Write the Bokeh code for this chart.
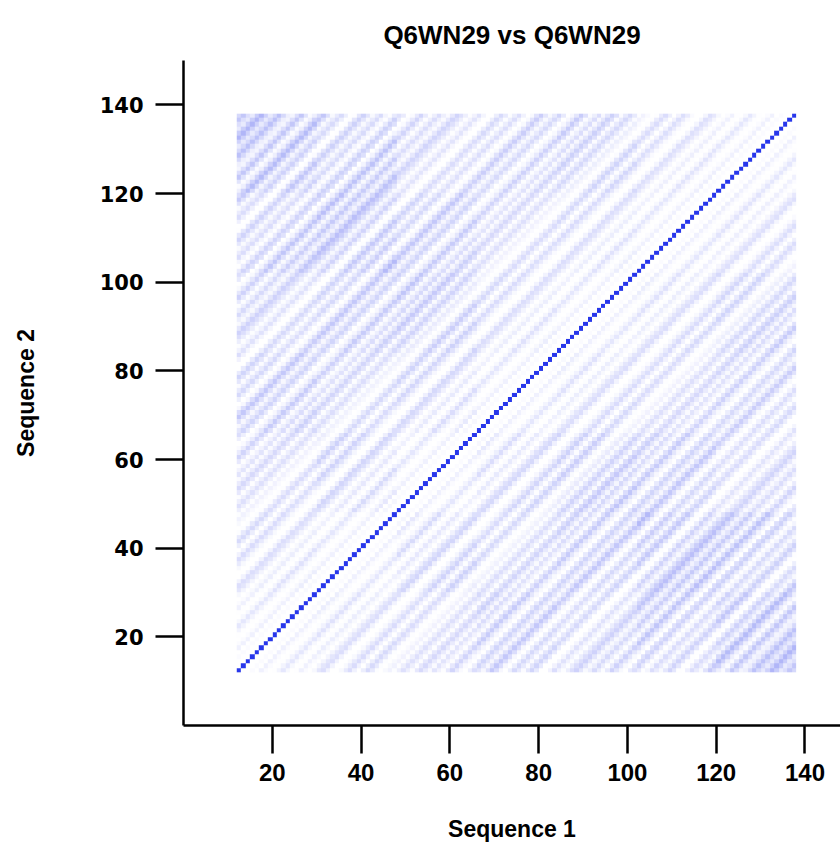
import numpy as np
from bokeh.plotting import figure
from bokeh.models import LinearColorMapper, FixedTicker, Range1d
from bokeh.embed import file_html
from bokeh.resources import INLINE

# ---- data ----
seq1_name = "Q6WN29"
seq2_name = "Q6WN29"
first_pos = 12          # first scored residue position
n_pos = 126             # number of scored positions along each sequence
# similarity score by diagonal offset |i - j| (0 = main diagonal)
diag_profile = [
    1.00, 0.06, 0.04, 0.10, 0.06, 0.16, 0.10, 0.04, 0.08, 0.14,
    0.22, 0.12, 0.05, 0.08, 0.16, 0.10, 0.04, 0.12, 0.20, 0.24,
    0.13, 0.06, 0.03, 0.10, 0.18, 0.25, 0.14, 0.07, 0.16, 0.26,
    0.18, 0.08, 0.04, 0.10, 0.14, 0.08, 0.16, 0.24, 0.16, 0.08,
    0.20, 0.28, 0.18, 0.10, 0.22, 0.14, 0.08, 0.20, 0.30, 0.18,
    0.10, 0.05, 0.16, 0.26, 0.18, 0.10, 0.20, 0.32, 0.22, 0.10,
    0.05, 0.14, 0.24, 0.16, 0.08, 0.18, 0.26, 0.16, 0.06, 0.03,
    0.12, 0.22, 0.14, 0.08, 0.16, 0.24, 0.30, 0.20, 0.10, 0.16,
    0.26, 0.16, 0.08, 0.18, 0.30, 0.20, 0.10, 0.05, 0.18, 0.24,
    0.14, 0.06, 0.10, 0.20, 0.14, 0.08, 0.16, 0.24, 0.16, 0.06,
    0.04, 0.12, 0.20, 0.14, 0.08, 0.18, 0.28, 0.20, 0.10, 0.06,
    0.14, 0.24, 0.16, 0.08, 0.10, 0.18, 0.26, 0.18, 0.12, 0.20,
    0.30, 0.22, 0.12, 0.16, 0.24, 0.18,
]
# regional intensity (7x7 blocks of 18 positions, rows = Sequence 2 from
# bottom, cols = Sequence 1 from left); symmetric like the self comparison
region_weight = [
    [0.80, 0.90, 0.85, 1.00, 0.90, 1.10, 1.35],
    [0.90, 0.80, 1.05, 0.90, 1.00, 1.20, 1.15],
    [0.85, 1.05, 0.80, 1.00, 1.10, 1.00, 0.85],
    [1.00, 0.90, 1.00, 0.80, 0.90, 0.85, 0.90],
    [0.90, 1.00, 1.10, 0.90, 0.80, 0.90, 1.00],
    [1.10, 1.20, 1.00, 0.85, 0.90, 0.80, 0.85],
    [1.35, 1.15, 0.85, 0.90, 1.00, 0.85, 0.80],
]
block = 18
x_ticks = [20, 40, 60, 80, 100, 120, 140]
y_ticks = [20, 40, 60, 80, 100, 120, 140]

# ---- build the symmetric score matrix from the tables ----
idx = np.arange(n_pos)
offsets = np.abs(idx[:, None] - idx[None, :])
score = np.array(diag_profile)[offsets]
weights = np.kron(np.array(region_weight), np.ones((block, block)))
score = np.where(offsets == 0, score, score * weights)

# white -> blue palette
lo = np.array([255, 255, 255])
hi = np.array([40, 55, 235])
palette = []
for t in np.linspace(0, 1, 256):
    c = (lo + (hi - lo) * t).round().astype(int)
    palette.append("#%02x%02x%02x" % tuple(c))
mapper = LinearColorMapper(palette=palette, low=0.06, high=1)

p = figure(
    width=840, height=852,
    x_range=Range1d(0, 148), y_range=Range1d(0, 150),
    output_backend="svg", toolbar_location=None,
    min_border_left=183, min_border_right=0,
    min_border_top=60, min_border_bottom=127,
    title=f"{seq1_name} vs {seq2_name}",
)
p.image(image=[score], x=first_pos, y=first_pos, dw=n_pos, dh=n_pos,
        color_mapper=mapper)

p.title.align = "center"
p.title.offset = 5
p.title.text_font = "Liberation Sans"
p.title.text_font_style = "bold"
p.title.text_font_size = "26px"
p.title.text_color = "black"
p.title.standoff = 22

p.outline_line_color = None
p.xgrid.visible = False
p.ygrid.visible = False

for ax in (p.xaxis[0], p.yaxis[0]):
    ax.axis_line_width = 2.5
    ax.axis_line_color = "black"
    ax.major_tick_line_width = 2.5
    ax.major_tick_line_color = "black"
    ax.major_tick_out = 28
    ax.major_tick_in = 0
    ax.minor_tick_line_color = None
    ax.major_label_text_font_style = "bold"
    ax.major_label_text_color = "black"
    ax.axis_label_text_font = "Liberation Sans"
    ax.axis_label_text_font_style = "bold"
    ax.axis_label_text_font_size = "23px"
    ax.axis_label_text_color = "black"

p.xaxis.ticker = FixedTicker(ticks=x_ticks)
p.yaxis.ticker = FixedTicker(ticks=y_ticks)
p.xaxis.axis_label = "Sequence 1"
p.yaxis.axis_label = "Sequence 2"
p.xaxis.major_label_text_font = "Liberation Sans"
p.xaxis.major_label_text_font_size = "24px"
p.yaxis.major_label_text_font = "DejaVu Sans"
p.yaxis.major_label_text_font_size = "21px"
p.xaxis.major_label_standoff = 10
p.yaxis.major_label_standoff = 12
p.xaxis.axis_label_standoff = 32
p.yaxis.axis_label_standoff = 58

open("out.html", "w").write(file_html(p, INLINE))
